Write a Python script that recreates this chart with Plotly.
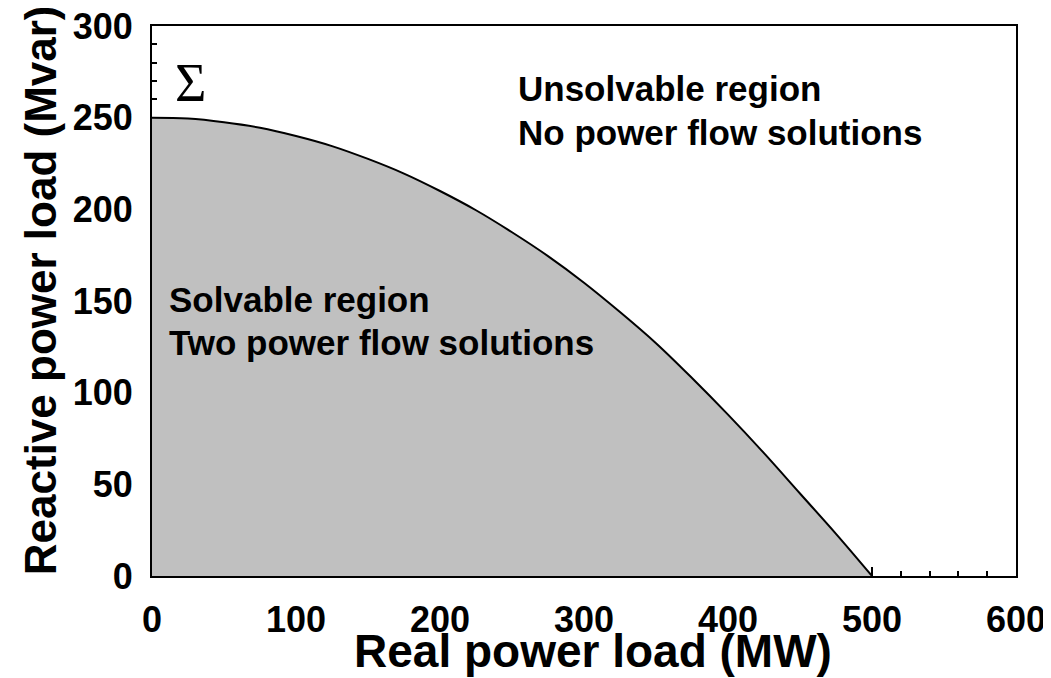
"""PV-style loadability boundary: solvable vs unsolvable power flow region."""

import plotly.graph_objects as go

# boundary curve (MW, Mvar)
P_MW = [0, 25, 50, 75, 100, 125, 150, 175, 200, 225, 250,
        275, 300, 325, 350, 375, 400, 425, 450, 475, 500]
Q_MVAR = [250, 249.5, 247.5, 244.5, 240, 234.5, 227.5, 219.5, 210, 199.5, 187.5,
          174.5, 160, 144, 127, 108, 88, 67, 45, 23, 0]

X_TICKS = [0, 100, 200, 300, 400, 500, 600]
Y_TICKS = [0, 50, 100, 150, 200, 250, 300]

FILL = "#C0C0C0"
FONT = "Arial, Liberation Sans, sans-serif"

fig = go.Figure()

fig.add_trace(
    go.Scatter(
        x=P_MW,
        y=Q_MVAR,
        mode="lines",
        line=dict(color="black", width=2, shape="spline"),
        fill="tozeroy",
        fillcolor=FILL,
        hoverinfo="skip",
        showlegend=False,
    )
)

text_font = dict(family=FONT, size=35, color="black", weight="bold")

fig.add_annotation(x=253, y=266, text="Unsolvable region", showarrow=False,
                   xanchor="left", yanchor="middle", font=text_font)
fig.add_annotation(x=253, y=242, text="No power flow solutions", showarrow=False,
                   xanchor="left", yanchor="middle", font=text_font)
fig.add_annotation(x=10.4, y=151, text="Solvable region", showarrow=False,
                   xanchor="left", yanchor="middle", font=text_font)
fig.add_annotation(x=10.4, y=127.5, text="Two power flow solutions", showarrow=False,
                   xanchor="left", yanchor="middle", font=text_font)
fig.add_annotation(x=26.5, y=269, text="Σ", showarrow=False,
                   xanchor="center", yanchor="middle",
                   font=dict(family="Liberation Serif, Times New Roman, serif",
                             size=54, color="black"))

# axis titles placed by hand so they sit tight against the tick labels
fig.add_annotation(x=0.5104, y=-0.1364, xref="paper", yref="paper",
                   text="Real power load (MW)", showarrow=False,
                   xanchor="center", yanchor="middle",
                   font=dict(family=FONT, size=46, color="black", weight="bold"))
fig.add_annotation(x=-0.1294, y=0.52, xref="paper", yref="paper",
                   text="Reactive power load (Mvar)", showarrow=False, textangle=-90,
                   xanchor="center", yanchor="middle",
                   font=dict(family=FONT, size=44, color="black", weight="bold"))

axis_common = dict(
    showgrid=False,
    zeroline=False,
    showline=True,
    linecolor="black",
    linewidth=2,
    mirror=True,
    ticks="inside",
    ticklen=9,
    tickwidth=1.5,
    tickcolor="black",
    layer="below traces",
    automargin=False,
    ticklabeloverflow="allow",
    tickfont=dict(family=FONT, size=36, color="black", weight="bold"),
)

fig.update_xaxes(
    range=[0, 600],
    tickvals=X_TICKS,
    minor=dict(dtick=20, ticks="inside", ticklen=5, tickwidth=1.5, tickcolor="black"),
    ticklabelstandoff=11,
    **axis_common,
)
fig.update_yaxes(
    range=[0, 300],
    tickvals=Y_TICKS,
    minor=dict(dtick=10, ticks="inside", ticklen=5, tickwidth=1.5, tickcolor="black"),
    ticklabelstandoff=10,
    **axis_common,
)

# page body adds an 8px offset, so the figure is 8px smaller on each axis
fig.update_layout(
    width=1043,
    height=670,
    plot_bgcolor="white",
    paper_bgcolor="white",
    margin=dict(l=144, r=35, t=18, b=102),
)

fig.write_html("out.html")
